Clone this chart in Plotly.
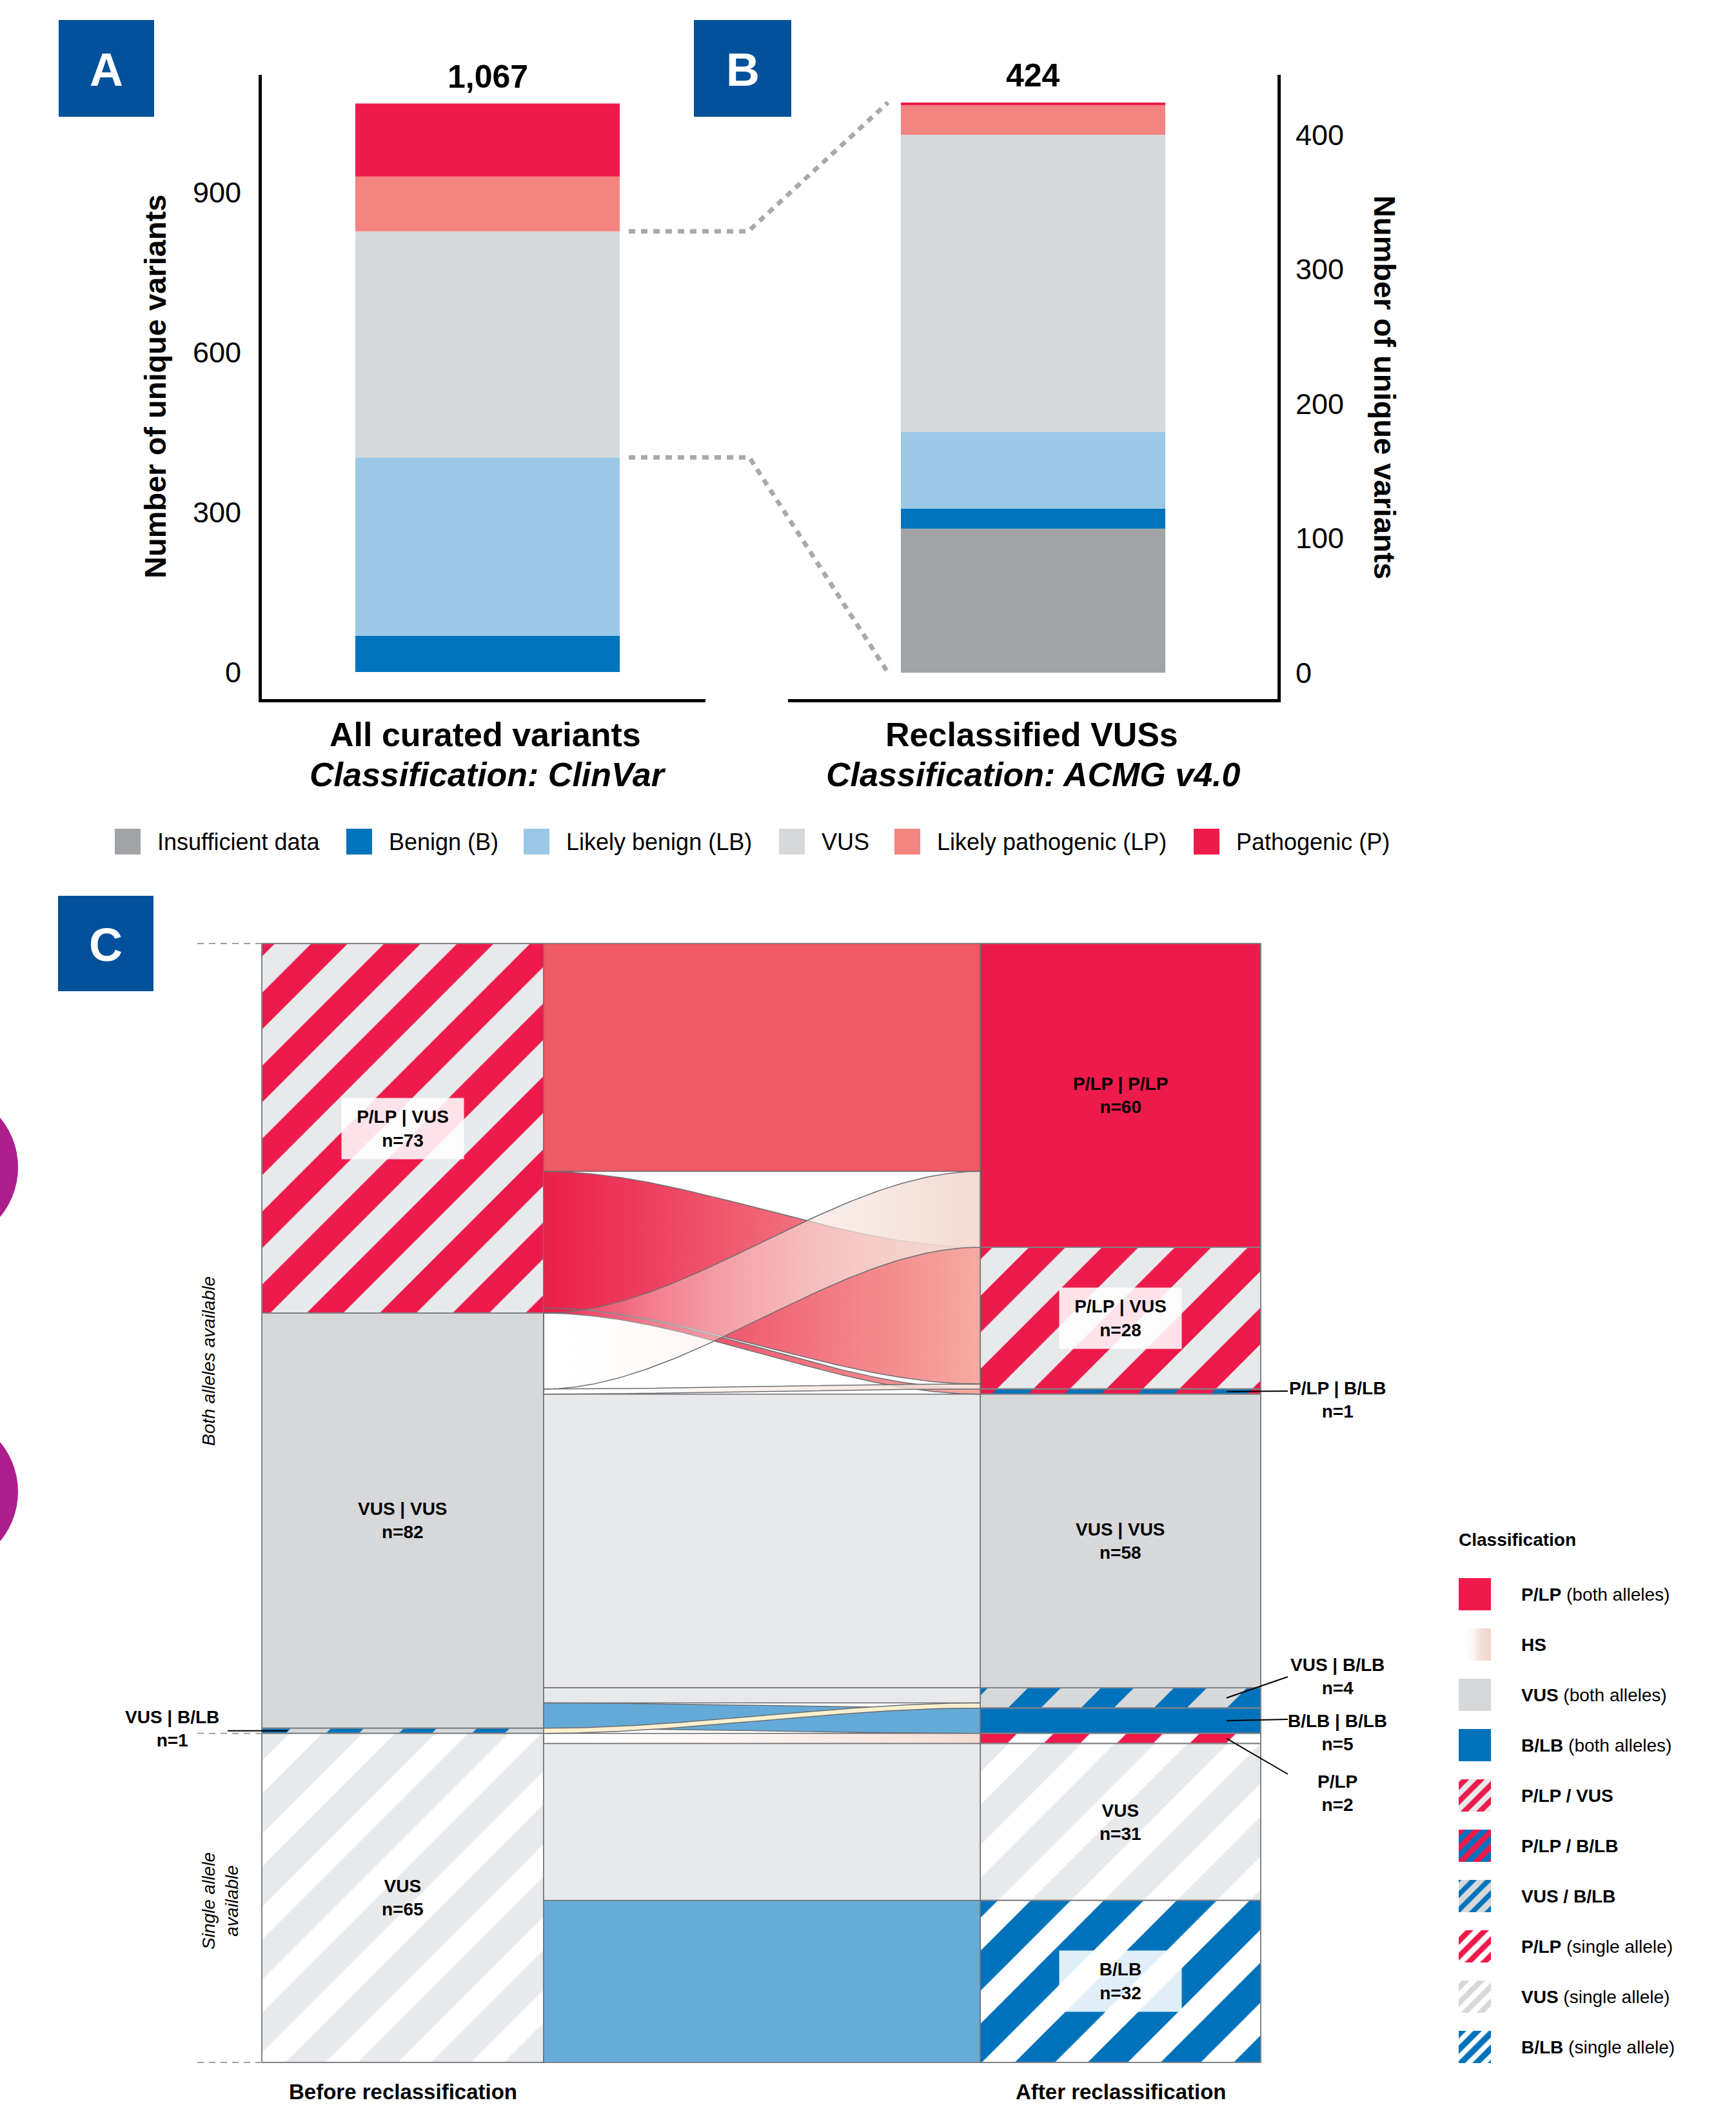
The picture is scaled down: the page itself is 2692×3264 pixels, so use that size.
import numpy as np
import plotly.graph_objects as go

W, H = 2692, 3264
FONT = "Liberation Sans"

# ---------------- Panels A and B : data ----------------
CATEGORIES = ["Insufficient data", "Benign (B)", "Likely benign (LB)", "VUS",
              "Likely pathogenic (LP)", "Pathogenic (P)"]
CAT_COLORS = ["#A2A3A6", "#0073BD", "#9AC8E5", "#D7D8DA", "#F3847F", "#ED1A4B"]
A_VALUES = [0, 68, 335, 424, 103, 137]
B_VALUES = [107, 15, 57, 221, 22, 2]
A_TICKS = [0, 300, 600, 900]
B_TICKS = [0, 100, 200, 300, 400]
A_TITLE = ["All curated variants", "Classification: ClinVar"]
B_TITLE = ["Reclassified VUSs", "Classification: ACMG v4.0"]
Y_TITLE = "Number of unique variants"

# ---------------- Panel C : data ----------------
LEFT_NODES = ["P/LP | VUS", "VUS | VUS", "VUS | B/LB", "VUS"]
LEFT_N = [73, 82, 1, 65]
RIGHT_NODES = ["P/LP | P/LP", "P/LP | VUS", "P/LP | B/LB", "VUS | VUS", "VUS | B/LB",
               "B/LB | B/LB", "P/LP", "VUS", "B/LB"]
RIGHT_N = [60, 28, 1, 58, 4, 5, 2, 31, 32]
LINK_SOURCE = [0, 0, 0, 1, 1, 1, 1, 1, 2, 3, 3, 3]
LINK_TARGET = [0, 1, 2, 0, 1, 3, 4, 5, 4, 6, 7, 8]
LINK_N = [45, 27, 1, 15, 1, 58, 3, 5, 1, 2, 31, 32]
C_LEGEND_BOLD = ["P/LP", "HS", "VUS", "B/LB", "P/LP / VUS", "P/LP / B/LB", "VUS / B/LB",
                 "P/LP", "VUS", "B/LB"]
C_LEGEND_NOTE = [" (both alleles)", "", " (both alleles)", " (both alleles)", "", "", "",
                 " (single allele)", " (single allele)", " (single allele)"]

# ---------------- styles ----------------
RED, BLUE, GREY, LGREY, WHITE = "#ED1A4B", "#0072BC", "#D7D8DA", "#E8E9EB", "#FFFFFF"
NODE_STYLE = {  # key: (background, stripe colour, solidity)
    "PP": (RED, None, 0), "PV": (LGREY, RED, 0.5), "PB": (BLUE, RED, 0.5),
    "VV": (GREY, None, 0), "VB": (GREY, BLUE, 0.45), "BB": (BLUE, None, 0),
    "PS": (WHITE, RED, 0.5), "VS": (WHITE, LGREY, 0.55), "BS": (WHITE, BLUE, 0.55),
    "VSL": (WHITE, GREY, 0.5),
}
LEFT_STYLE = ["PV", "VV", "VB", "VS"]
RIGHT_STYLE = ["PP", "PV", "PB", "VV", "VB", "BB", "PS", "VS", "BS"]
LEGEND_STYLE = ["PP", "HS", "VV", "BB", "PV", "PB", "VB", "PS", "VSL", "BS"]
RED_GRAD = [[0, "#EB1E4A"], [1, "#F6AAA2"]]
HS_GRAD = [[0, "rgba(255,255,255,0)"], [0.25, "rgba(252,238,233,0.35)"], [1, "rgba(242,219,210,0.97)"]]
LINK_STYLE = [("solid", "#EF5A66"), ("grad", RED_GRAD), ("grad", RED_GRAD), ("grad", HS_GRAD),
              ("grad", HS_GRAD), ("solid", LGREY), ("solid", LGREY), ("solid", "#64AAD8"),
              ("solid", "#FCF0CF"), ("grad", HS_GRAD), ("solid", LGREY), ("solid", "#66ACD8")]
DRAW_ORDER = [0, 5, 6, 7, 8, 9, 10, 11, 1, 2, 3, 4]
OUTLINE = "#6D6E71"

fig = go.Figure()


def ann(x, y, text, size, **kw):
    d = dict(x=x / W, y=1 - y / H, xref="paper", yref="paper", text=text, showarrow=False,
             font=dict(size=size, family=FONT, color="black"), xanchor="center", yanchor="middle")
    d.update(kw)
    fig.add_annotation(**d)


# ================= Panels A & B =================
AB_TOP, AB_BOT = 116, 1084
A_XPIX, B_XPIX = (406, 1094), (1222, 1981)
BAR_W = 0.6
UNIT = 410 / BAR_W
A_XR = [(A_XPIX[0] - 756) / UNIT, (A_XPIX[1] - 756) / UNIT]
B_XR = [(B_XPIX[0] - 1602) / UNIT, (B_XPIX[1] - 1602) / UNIT]
A_YR = [-50.8, 1121.0]
B_YR = [-19.7, 444.6]

a_base = np.concatenate([[0], np.cumsum(A_VALUES)[:-1]])
b_base = np.concatenate([[0], np.cumsum(B_VALUES)[:-1]])
for i, cat in enumerate(CATEGORIES):
    if A_VALUES[i] > 0:
        fig.add_trace(go.Bar(x=[0], y=[A_VALUES[i]], base=[a_base[i]], width=[BAR_W], name=cat,
                             marker=dict(color=CAT_COLORS[i], line=dict(width=0)),
                             xaxis="x", yaxis="y", showlegend=False))
    if B_VALUES[i] > 0:
        fig.add_trace(go.Bar(x=[0], y=[B_VALUES[i]], base=[b_base[i]], width=[BAR_W], name=cat,
                             marker=dict(color=CAT_COLORS[i], line=dict(width=0)),
                             xaxis="x2", yaxis="y2", showlegend=False))

a_total, b_total = int(sum(A_VALUES)), int(sum(B_VALUES))
fig.add_annotation(x=0, y=a_total, xref="x", yref="y", text=f"<b>{a_total:,}</b>", showarrow=False,
                   yanchor="bottom", yshift=12, font=dict(size=50, family=FONT, color="black"))
fig.add_annotation(x=0, y=b_total, xref="x2", yref="y2", text=f"<b>{b_total:,}</b>", showarrow=False,
                   yanchor="bottom", yshift=12, font=dict(size=50, family=FONT, color="black"))


def ya_pix(v):
    return AB_BOT - (v - A_YR[0]) / (A_YR[1] - A_YR[0]) * (AB_BOT - AB_TOP)


def yb_pix(v):
    return AB_BOT - (v - B_YR[0]) / (B_YR[1] - B_YR[0]) * (AB_BOT - AB_TOP)


vus_idx = CATEGORIES.index("VUS")
vus_hi = a_base[vus_idx] + A_VALUES[vus_idx]
vus_lo = a_base[vus_idx]
for ya, yb, xk in [(ya_pix(vus_hi), yb_pix(b_total), 1160), (ya_pix(vus_lo), yb_pix(0), 1162)]:
    path = f"M {975 / W} {1 - ya / H} L {xk / W} {1 - ya / H} L {1377 / W} {1 - yb / H}"
    fig.add_shape(type="path", path=path, xref="paper", yref="paper",
                  line=dict(color="#A7A9AC", width=7, dash="10px,9px"))

ann(240, 600, f"<b>{Y_TITLE}</b>", 47, textangle=-90)
ann(2148, 600, f"<b>{Y_TITLE}</b>", 47, textangle=90)
ann(752, 1139, f"<b>{A_TITLE[0]}</b>", 52)
ann(756, 1201, f"<b><i>{A_TITLE[1]}</i></b>", 52)
ann(1600, 1139, f"<b>{B_TITLE[0]}</b>", 52)
ann(1602, 1201, f"<b><i>{B_TITLE[1]}</i></b>", 52)

# legend for A/B
LEG_AB_X = [178, 537, 812, 1208, 1387, 1851]
for i, cat in enumerate(CATEGORIES):
    fig.add_shape(type="rect", x0=LEG_AB_X[i] / W, x1=(LEG_AB_X[i] + 40) / W, y0=1 - 1325 / H,
                  y1=1 - 1285 / H, xref="paper", yref="paper", fillcolor=CAT_COLORS[i], line=dict(width=0))
    ann(LEG_AB_X[i] + 64, 1305, cat, 36, xanchor="left")

# panel letters
for (x0, y0, x1, y1, letter) in [(91, 31, 239, 181, "A"), (1076, 31, 1227, 181, "B"),
                                  (90, 1389, 238, 1537, "C")]:
    fig.add_shape(type="rect", x0=x0 / W, x1=x1 / W, y0=1 - y1 / H, y1=1 - y0 / H, xref="paper",
                  yref="paper", fillcolor="#03519B", line=dict(width=0))
    ann((x0 + x1) / 2, (y0 + y1) / 2 + 2, f"<b>{letter}</b>", 72, font=dict(size=72, family=FONT, color="white"))

# purple circles cut at the left edge
for cy in (1810, 2313):
    fig.add_shape(type="circle", x0=-212 / W, x1=28 / W, y0=1 - (cy + 120) / H, y1=1 - (cy - 120) / H,
                  xref="paper", yref="paper", fillcolor="#AB1E8C", line=dict(width=0))

# ================= Panel C =================
C_TOP, C_BOT, C_LEFT, C_RIGHT = 1463, 3198, 406, 1955
TOTAL_C = float(sum(LEFT_N))
SC = (C_BOT - C_TOP) / TOTAL_C
XU = 437.0
L_X0, L_X1 = 0.0, 1.0
R_X0, R_X1 = (1520 - C_LEFT) / XU, (C_RIGHT - C_LEFT) / XU


def cy_pix(v):
    return C_TOP + v * SC


left_base = np.concatenate([[0], np.cumsum(LEFT_N)[:-1]]).astype(float)
right_base = np.concatenate([[0], np.cumsum(RIGHT_N)[:-1]]).astype(float)

# flows
src_cur, tgt_cur = left_base.copy(), right_base.copy()
geo = []
for s, t, v in zip(LINK_SOURCE, LINK_TARGET, LINK_N):
    geo.append((src_cur[s], tgt_cur[t], v))
    src_cur[s] += v
    tgt_cur[t] += v

tt = np.linspace(0, 1, 90)
ss = tt * tt * (3 - 2 * tt)
xs = L_X1 + tt * (R_X0 - L_X1)
for k in DRAW_ORDER:
    y0, y1, v = geo[k]
    top = y0 + (y1 - y0) * ss
    bot = top + v
    X = np.concatenate([xs, xs[::-1], [xs[0]]])
    Y = np.concatenate([top, bot[::-1], [top[0]]])
    kind, col = LINK_STYLE[k]
    tr = dict(x=X, y=Y, mode="lines", fill="toself", line=dict(color=OUTLINE, width=1.5),
              xaxis="x3", yaxis="y3", showlegend=False, hoverinfo="skip")
    if kind == "solid":
        tr["fillcolor"] = col
    else:
        tr["fillgradient"] = dict(type="horizontal", colorscale=col)
    fig.add_trace(go.Scatter(**tr))


def node_bar(xc, w, base, n, key, size, xa, ya, lw=2):
    bg, fg, sol = NODE_STYLE[key]
    marker = dict(color=bg, line=dict(color="#808285", width=lw))
    if fg:
        marker["pattern"] = dict(shape="/", fgcolor=fg, bgcolor=bg, size=size, solidity=sol,
                                 fillmode="replace")
    return go.Bar(x=[xc], y=[n], base=[base], width=[w], marker=marker, xaxis=xa, yaxis=ya,
                  showlegend=False, hoverinfo="skip")


for i, n in enumerate(LEFT_N):
    fig.add_trace(node_bar((L_X0 + L_X1) / 2, L_X1 - L_X0, left_base[i], n, LEFT_STYLE[i], 80, "x3", "y3"))
for i, n in enumerate(RIGHT_N):
    fig.add_trace(node_bar((R_X0 + R_X1) / 2, R_X1 - R_X0, right_base[i], n, RIGHT_STYLE[i], 80, "x3", "y3"))

# node labels
LXC, RXC = (L_X0 + L_X1) / 2, (R_X0 + R_X1) / 2
BOXED_LEFT = {0}
BOXED_RIGHT = {1, 8}
INSIDE_LEFT = [0, 1, 3]
INSIDE_RIGHT = [0, 1, 3, 7, 8]
lab_font = dict(size=28, family=FONT, color="black")
for i in INSIDE_LEFT:
    kw = dict(bgcolor="rgba(255,255,255,0.88)", width=175, height=80, borderpad=7) if i in BOXED_LEFT else {}
    fig.add_annotation(x=LXC, y=left_base[i] + LEFT_N[i] / 2, xref="x3", yref="y3", showarrow=False,
                       text=f"<b>{LEFT_NODES[i]}<br>n={LEFT_N[i]}</b>", font=lab_font, **kw)
for i in INSIDE_RIGHT:
    kw = dict(bgcolor="rgba(255,255,255,0.88)", width=175, height=80, borderpad=7) if i in BOXED_RIGHT else {}
    fig.add_annotation(x=RXC, y=right_base[i] + RIGHT_N[i] / 2, xref="x3", yref="y3", showarrow=False,
                       text=f"<b>{RIGHT_NODES[i]}<br>n={RIGHT_N[i]}</b>", font=lab_font, **kw)

# outside labels (right) with leader lines
OUT_RIGHT = [2, 4, 5, 6]
OUT_TEXT_Y = [2170, 2599, 2686, 2780]
OUT_LINE_END = [2157, 2600, 2666, 2751]
for j, i in enumerate(OUT_RIGHT):
    yc = cy_pix(right_base[i] + RIGHT_N[i] / 2)
    fig.add_shape(type="line", x0=1902 / W, x1=1997 / W, y0=1 - yc / H, y1=1 - OUT_LINE_END[j] / H,
                  xref="paper", yref="paper", line=dict(color="black", width=2))
    ann(2074, OUT_TEXT_Y[j], f"<b>{RIGHT_NODES[i]}<br>n={RIGHT_N[i]}</b>", 28)
# outside label (left)
yc = cy_pix(left_base[2] + LEFT_N[2] / 2)
fig.add_shape(type="line", x0=353 / W, x1=446 / W, y0=1 - yc / H, y1=1 - yc / H, xref="paper",
              yref="paper", line=dict(color="black", width=2))
ann(267, 2680, f"<b>{LEFT_NODES[2]}<br>n={LEFT_N[2]}</b>", 28)

# dashed guide lines on the left
for v in (0, left_base[3], TOTAL_C):
    fig.add_shape(type="line", x0=306 / W, x1=406 / W, y0=v, y1=v, xref="paper", yref="y3",
                  line=dict(color="#9D9FA2", width=2, dash="10px,8px"))

ann(323, 2111, "<i>Both alleles available</i>", 28, textangle=-90)
ann(341, 2948, "<i>Single allele<br>available</i>", 28, textangle=-90)
fig.add_annotation(x=LXC, y=1 - 3243 / H, xref="x3", yref="paper", text="<b>Before reclassification</b>",
                   showarrow=False, font=dict(size=33, family=FONT, color="black"), yanchor="middle")
fig.add_annotation(x=RXC, y=1 - 3243 / H, xref="x3", yref="paper", text="<b>After reclassification</b>",
                   showarrow=False, font=dict(size=33, family=FONT, color="black"), yanchor="middle")

# legend for C (swatches drawn on their own small axis)
ann(2260, 2387, "<b>Classification</b>", 28, xanchor="left")
SW = 0.32
for i, key in enumerate(LEGEND_STYLE):
    if key == "HS":
        fig.add_trace(go.Scatter(x=[0, 1, 1, 0, 0], y=[i - SW, i - SW, i + SW, i + SW, i - SW], mode="lines",
                                 fill="toself", line=dict(width=0),
                                 fillgradient=dict(type="horizontal",
                                                   colorscale=[[0, "rgba(255,255,255,0)"], [0.15, "rgba(255,255,255,0)"],
                                                               [0.7, "rgba(242,219,210,0.95)"],
                                                               [1, "rgba(240,215,205,1)"]]),
                                 xaxis="x4", yaxis="y4", showlegend=False, hoverinfo="skip"))
    else:
        fig.add_trace(node_bar(0.5, 1.0, i - SW, 2 * SW, key, 17, "x4", "y4", lw=0))
    fig.add_annotation(x=2357 / W, y=i, xref="paper", yref="y4", showarrow=False, xanchor="left",
                       text=f"<b>{C_LEGEND_BOLD[i]}</b>{C_LEGEND_NOTE[i]}", font=lab_font)

# ================= layout =================
ax_off = dict(visible=False, showgrid=False, zeroline=False, fixedrange=True)
fig.update_layout(
    width=W, height=H, margin=dict(l=0, r=0, t=0, b=0, pad=0),
    paper_bgcolor="white", plot_bgcolor="rgba(0,0,0,0)", barmode="overlay", showlegend=False,
    font=dict(family=FONT, color="black"),
    xaxis=dict(domain=[A_XPIX[0] / W, A_XPIX[1] / W], range=A_XR, showline=True, linewidth=5,
               linecolor="black", showticklabels=False, ticks="", showgrid=False, zeroline=False,
               anchor="y"),
    yaxis=dict(domain=[1 - AB_BOT / H, 1 - AB_TOP / H], range=A_YR, showline=True, linewidth=5,
               linecolor="black", tickvals=A_TICKS, tickfont=dict(size=45, family=FONT, color="black"),
               ticks="", showgrid=False, zeroline=False, ticklabelstandoff=18, anchor="x"),
    xaxis2=dict(domain=[B_XPIX[0] / W, B_XPIX[1] / W], range=B_XR, showline=True, linewidth=5,
                linecolor="black", showticklabels=False, ticks="", showgrid=False, zeroline=False,
                anchor="y2"),
    yaxis2=dict(domain=[1 - AB_BOT / H, 1 - AB_TOP / H], range=B_YR, showline=True, linewidth=5,
                linecolor="black", tickvals=B_TICKS, tickfont=dict(size=45, family=FONT, color="black"),
                ticks="", showgrid=False, zeroline=False, side="right", ticklabelstandoff=14,
                anchor="x2"),
    xaxis3=dict(domain=[(C_LEFT - 4) / W, (C_RIGHT + 4) / W],
                range=[-4 / XU, (C_RIGHT - C_LEFT + 4) / XU], anchor="y3", **ax_off),
    yaxis3=dict(domain=[1 - (C_BOT + 4) / H, 1 - (C_TOP - 4) / H],
                range=[TOTAL_C + 4 / SC, -4 / SC], anchor="x3", **ax_off),
    xaxis4=dict(domain=[2262 / W, 2312 / W], range=[0, 1], anchor="y4", **ax_off),
    yaxis4=dict(domain=[1 - 3213 / H, 1 - 2433 / H], range=[9.5, -0.5], anchor="x4", **ax_off),
)

fig.write_html("out.html")
